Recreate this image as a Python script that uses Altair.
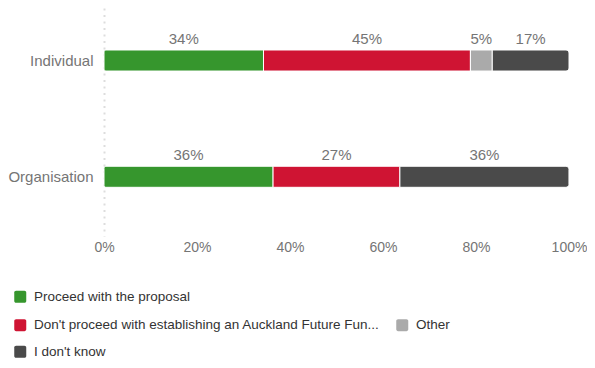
import altair as alt
import pandas as pd

groups = ["Individual", "Organisation"]
categories = [
    "Proceed with the proposal",
    "Don't proceed with establishing an Auckland Future Fun...",
    "Other",
    "I don't know",
]
colors = ["#36962d", "#cf1433", "#aaaaaa", "#4a4a4a"]
individual_pct = [34.3, 44.5, 4.7, 16.5]
organisation_pct = [36.36, 27.27, 0.0, 36.36]
x_ticks = [0, 20, 40, 60, 80, 100]

rows = []
for g, vals in zip(groups, [individual_pct, organisation_pct]):
    for i, (c, v) in enumerate(zip(categories, vals)):
        if v > 0:
            rows.append({"group": g, "category": c, "order": i, "pct": v})
df = pd.DataFrame(rows)

FONT = "Liberation Sans"
GREY = "#757575"
ROUNDED = ("M-0.7,-1L0.7,-1A0.3,0.3 0 0 1 1,-0.7L1,0.7A0.3,0.3 0 0 1 0.7,1"
           "L-0.7,1A0.3,0.3 0 0 1 -1,0.7L-1,-0.7A0.3,0.3 0 0 1 -0.7,-1Z")

base = alt.Chart(df).transform_stack(
    stack="pct", groupby=["group"], as_=["x0", "x1"],
    sort=[alt.SortField("order", order="ascending")],
)

xscale = alt.Scale(domain=[0, 100], nice=False)
xaxis = alt.Axis(values=x_ticks, labelExpr="datum.value + '%'", ticks=False,
                 domain=False, grid=False, labelPadding=4, labelFontSize=14,
                 labelColor=GREY, labelFont=FONT, labelFlush=False,
                 labelAlign="center", title=None)
yscale = alt.Scale(domain=groups, paddingInner=0.819, paddingOuter=0.39, align=0.463)
yaxis = alt.Axis(ticks=False, domain=True, domainDash=[2, 4.5], domainColor="#dddddd",
                 domainWidth=2, labelPadding=11, labelFontSize=15, labelColor=GREY,
                 labelFont=FONT, grid=False, title=None)
y_enc = alt.Y("group:N", sort=groups, scale=yscale, axis=yaxis, title=None)


def legend(x, y, horizontal=False):
    kw = dict(orient="none", legendX=x, legendY=y, title=None, symbolType=ROUNDED,
              symbolSize=144, symbolStrokeWidth=0, labelFontSize=13.5, labelFont=FONT,
              labelColor="#333333", labelLimit=600, labelOffset=7)
    if horizontal:
        kw.update(direction="horizontal", columns=2, columnPadding=15)
    return alt.Legend(**kw)


def bar_layer(idx, leg, corner):
    cats = [categories[i] for i in idx]
    cols = [colors[i] for i in idx]
    return base.transform_filter(
        alt.FieldOneOfPredicate(field="category", oneOf=cats)
    ).mark_bar(stroke="white", strokeWidth=1, **corner).encode(
        x=alt.X("x0:Q", scale=xscale, axis=xaxis, title=None),
        x2="x1:Q",
        y=y_enc,
        color=alt.Color("category:N", scale=alt.Scale(domain=cats, range=cols), legend=leg),
    )


layer_a = bar_layer([0], legend(-90.5, 282), dict(cornerRadiusTopLeft=2, cornerRadiusBottomLeft=2))
layer_b = bar_layer([1, 2], legend(-90.5, 310, horizontal=True), {})
layer_c = bar_layer([3], legend(-90.5, 337), dict(cornerRadiusTopRight=3, cornerRadiusBottomRight=3))

text = base.transform_calculate(
    mid="(datum.x0 + datum.x1) / 2",
    label="format(datum.pct, '.0f') + '%'",
).mark_text(dy=-22, fontSize=15, color=GREY, font=FONT).encode(
    x=alt.X("mid:Q", scale=xscale, axis=xaxis, title=None),
    y=y_enc,
    text="label:N",
)

chart = alt.layer(layer_a, layer_b, layer_c, text).resolve_scale(
    color="independent"
).properties(
    width=465,
    height=228,
    padding={"left": 96, "top": 0, "right": 18, "bottom": 124},
    autosize=alt.AutoSizeParams(type="none"),
).configure_view(stroke=None)

chart.save("out.html", embed_options={"renderer": "svg", "actions": False})
